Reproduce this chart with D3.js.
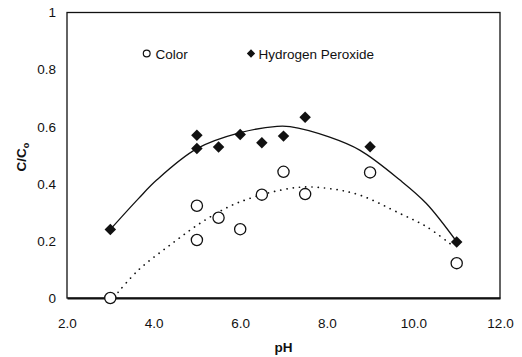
<!DOCTYPE html>
<html>
<head>
<meta charset="utf-8">
<script src="https://cdn.jsdelivr.net/npm/d3@7"></script>
<style>
  body { margin: 0; background: #fff; }
  text { font-family: Arial, "Liberation Sans", sans-serif; fill: #111; }
</style>
</head>
<body>
<div id="chart"></div>
<script>
// data
const phColor = [3, 5, 5, 5.5, 6, 6.5, 7, 7.5, 9, 11];
const colorVals = [0, 0.323, 0.203, 0.281, 0.241, 0.362, 0.442, 0.364, 0.44, 0.122];
const phPeroxide = [3, 5, 5, 5.5, 6, 6.5, 7, 7.5, 9, 11];
const peroxideVals = [0.24, 0.57, 0.524, 0.529, 0.573, 0.544, 0.567, 0.633, 0.53, 0.196];

// fitted trend lines
const solidPh = [3, 3.65, 4.07, 5, 6, 6.85, 7.15, 8.05, 8.77, 9.69, 10.3, 11];
const solidVals = [0.24, 0.348, 0.413, 0.523, 0.579, 0.601, 0.6, 0.564, 0.517, 0.413, 0.331, 0.197];
const dottedPh = [3.18, 3.65, 4.42, 5.19, 6, 7.3, 8.07, 8.77, 9.69, 10.3, 10.85];
const dottedVals = [0.02, 0.098, 0.19, 0.273, 0.337, 0.387, 0.383, 0.36, 0.296, 0.25, 0.19];

const xTicks = [2, 4, 6, 8, 10, 12];
const xTickLabels = ["2.0", "4.0", "6.0", "8.0", "10.0", "12.0"];
const yTicks = [0, 0.2, 0.4, 0.6, 0.8, 1];
const yTickLabels = ["0", "0.2", "0.4", "0.6", "0.8", "1"];

const legendLabels = ["Color", "Hydrogen Peroxide"];

// chart dimensions
const width = 522;
const height = 357;
const marginLeft = 67;
const marginRight = 22;
const marginTop = 12.5;
const marginBottom = 59;

const x = d3.scaleLinear([2, 12], [marginLeft, width - marginRight]);
const y = d3.scaleLinear([0, 1], [height - marginBottom, marginTop]);

const svg = d3.create("svg")
    .attr("width", width)
    .attr("height", height);

// plot frame
svg.append("rect")
    .attr("x", x(2))
    .attr("y", y(1))
    .attr("width", x(12) - x(2))
    .attr("height", y(0) - y(1))
    .attr("fill", "none")
    .attr("stroke", "#111")
    .attr("stroke-width", 1.3);

// x axis
const xAxis = svg.append("g")
    .attr("transform", `translate(0,${y(0)})`)
    .call(d3.axisBottom(x).tickValues(xTicks).tickSize(0).tickPadding(20)
        .tickFormat((d, i) => xTickLabels[i]));
xAxis.select(".domain").attr("stroke", "#111").attr("stroke-width", 1.8);
xAxis.selectAll(".tick text").attr("font-size", 13.5).attr("font-family", null);

// y axis
const yAxis = svg.append("g")
    .attr("transform", `translate(${x(2)},0)`)
    .call(d3.axisLeft(y).tickValues(yTicks).tickSize(0).tickPadding(11)
        .tickFormat((d, i) => yTickLabels[i]));
yAxis.select(".domain").remove();
yAxis.selectAll(".tick text").attr("font-size", 13.5).attr("font-family", null);

// axis titles
svg.append("text")
    .text("pH")
    .attr("x", (x(2) + x(12)) / 2)
    .attr("y", 352)
    .attr("text-anchor", "middle")
    .attr("font-size", 13.5)
    .attr("font-weight", "bold");

const yTitle = svg.append("text")
    .attr("transform", "rotate(-90)")
    .attr("x", -157)
    .attr("y", 26)
    .attr("text-anchor", "middle")
    .attr("font-size", 13.5)
    .attr("font-weight", "bold");
yTitle.append("tspan").text("C/C");
yTitle.append("tspan").text("o").attr("font-size", 9).attr("dy", 3);

// trend lines
const line = d3.line()
    .x(d => x(d[0]))
    .y(d => y(d[1]))
    .curve(d3.curveCatmullRom);

svg.append("path")
    .attr("d", line(d3.zip(solidPh, solidVals)))
    .attr("fill", "none")
    .attr("stroke", "#111")
    .attr("stroke-width", 1.3);

svg.append("path")
    .attr("d", line(d3.zip(dottedPh, dottedVals)))
    .attr("fill", "none")
    .attr("stroke", "#111")
    .attr("stroke-width", 1.7)
    .attr("stroke-linecap", "round")
    .attr("stroke-dasharray", "0.1,6.2");

// markers
const diamond = d3.symbol().type(d3.symbolDiamond2).size(84);

svg.append("g")
    .selectAll("path")
    .data(d3.zip(phPeroxide, peroxideVals))
    .join("path")
    .attr("d", diamond)
    .attr("transform", d => `translate(${x(d[0])},${y(d[1])})`)
    .attr("fill", "#111");

svg.append("g")
    .selectAll("circle")
    .data(d3.zip(phColor, colorVals))
    .join("circle")
    .attr("cx", d => x(d[0]))
    .attr("cy", d => y(d[1]))
    .attr("r", 5.6)
    .attr("fill", "#fff")
    .attr("stroke", "#111")
    .attr("stroke-width", 1.3);

// legend
const legend = svg.append("g");
legend.append("circle")
    .attr("cx", 146.7)
    .attr("cy", 53.5)
    .attr("r", 3.4)
    .attr("fill", "#fff")
    .attr("stroke", "#111")
    .attr("stroke-width", 1.2);
legend.append("text")
    .text(legendLabels[0])
    .attr("x", 155.5)
    .attr("y", 58.5)
    .attr("font-size", 13.5);
legend.append("path")
    .attr("d", d3.symbol().type(d3.symbolDiamond2).size(44))
    .attr("transform", "translate(251,53.5)")
    .attr("fill", "#111");
legend.append("text")
    .text(legendLabels[1])
    .attr("x", 258.5)
    .attr("y", 58.5)
    .attr("font-size", 13.5);

d3.select("#chart").append(() => svg.node());
</script>
</body>
</html>
